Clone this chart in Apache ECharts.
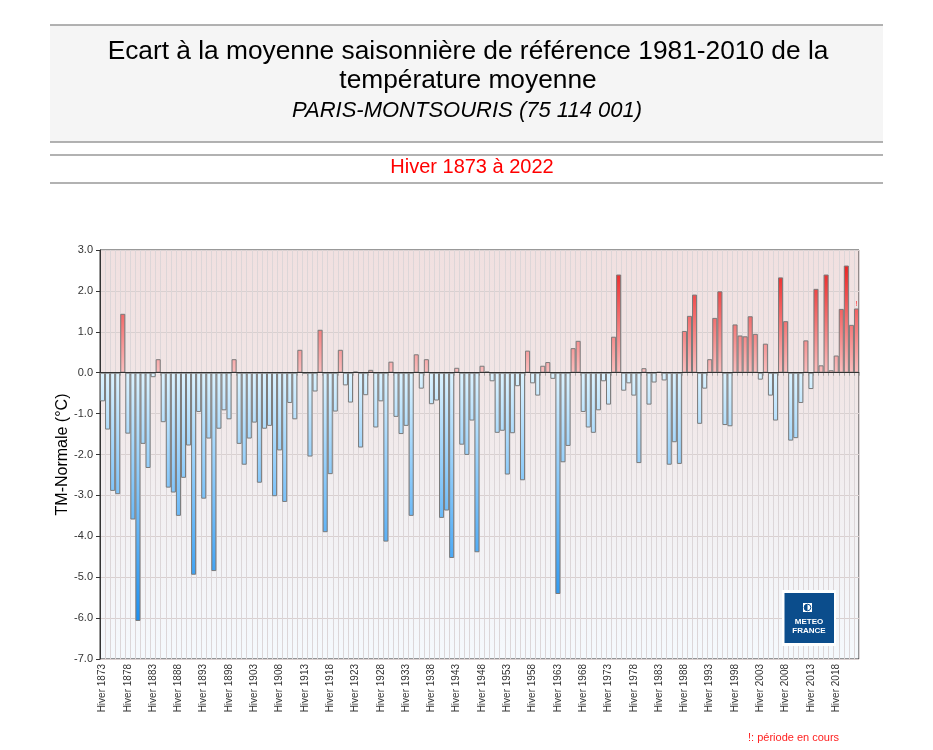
<!DOCTYPE html>
<html>
<head>
<meta charset="utf-8">
<script src="https://cdn.jsdelivr.net/npm/echarts@6/dist/echarts.min.js"></script>
<style>
html,body{margin:0;padding:0;background:#fff;}
#chart{width:933px;height:750px;}
</style>
</head>
<body>
<div id="chart"></div>
<script>
// ---- Data ----
const firstYear = 1873;
const lastYear = 2022;
const categories = [];
for (let y = firstYear; y <= lastYear; y++) categories.push('Hiver ' + y);

// Anomalies (°C), winter 1873..1922
const values1873_1922 = [
  -0.70, -1.39, -2.89, -2.97, 1.44, -1.49, -3.59, -6.07, -1.74, -2.33,
  -0.11, 0.33, -1.21, -2.81, -2.93, -3.50, -2.57, -1.78, -4.94, -0.96,
  -3.08, -1.61, -4.85, -1.37, -0.92, -1.14, 0.33, -1.74, -2.25, -1.61,
  -1.22, -2.69, -1.37, -1.30, -3.02, -1.90, -3.16, -0.74, -1.14, 0.56,
  -0.02, -2.05, -0.46, 1.05, -3.90, -2.48, -0.95, 0.56, -0.31, -0.73
];
// winter 1923..1972
const values1923_1972 = [
  0.03, -1.83, -0.55, 0.07, -1.34, -0.70, -4.13, 0.27, -1.08, -1.50,
  -1.30, -3.50, 0.45, -0.39, 0.33, -0.77, -0.68, -3.55, -3.37, -4.53,
  0.12, -1.76, -2.01, -1.17, -4.39, 0.17, 0.03, -0.21, -1.47, -1.42,
  -2.49, -1.48, -0.33, -2.63, 0.54, -0.26, -0.56, 0.17, 0.26, -0.15,
  -5.41, -2.19, -1.79, 0.60, 0.78, -0.96, -1.34, -1.47, -0.92, -0.21
];
// winter 1973..2022
const values1973_2022 = [
  -0.78, 0.88, 2.40, -0.44, -0.26, -0.56, -2.21, 0.11, -0.78, -0.24,
  0.02, -0.19, -2.25, -1.70, -2.23, 1.02, 1.39, 1.91, -1.25, -0.39,
  0.33, 1.34, 1.99, -1.28, -1.31, 1.18, 0.91, 0.89, 1.38, 0.95,
  -0.17, 0.71, -0.56, -1.17, 2.33, 1.26, -1.66, -1.60, -0.74, 0.79,
  -0.40, 2.05, 0.18, 2.40, 0.06, 0.42, 1.56, 2.62, 1.17, 1.57
];
const values = values1873_1922.concat(values1923_1972, values1973_2022);
const yTicks = [-7, -6, -5, -4, -3, -2, -1, 0, 1, 2, 3];

// ---- Styling helpers ----
const posLow = [250, 190, 190], posHigh = [236, 30, 30];
const negLow = [220, 243, 255], negHigh = [26, 144, 242];
function mix(a, b, t) {
  t = Math.max(0, Math.min(1, t));
  return 'rgb(' + a.map((v, i) => Math.round(v + (b[i] - v) * t)).join(',') + ')';
}
function barColor(p) {
  const v = p.value;
  if (v >= 0) {
    return new echarts.graphic.LinearGradient(0, 0, 0, 1, [
      { offset: 0, color: mix(posLow, posHigh, v / 2.7) },
      { offset: 1, color: mix(posLow, posHigh, 0) }
    ]);
  }
  return new echarts.graphic.LinearGradient(0, 0, 0, 1, [
    { offset: 0, color: mix(negLow, negHigh, 0) },
    { offset: 1, color: mix(negLow, negHigh, -v / 6.1) }
  ]);
}

const seriesData = values.map((v, i) => {
  if (i === values.length - 1) {
    return { value: v, label: { show: true, position: 'top', formatter: '!', color: '#ff2020', fontSize: 7, distance: 1 } };
  }
  return v;
});

const chart = echarts.init(document.getElementById('chart'), null, { renderer: 'canvas' });
const FONT = '"Liberation Sans", Arial, sans-serif';

chart.setOption({
  animation: false,
  backgroundColor: '#ffffff',
  textStyle: { fontFamily: FONT },
  grid: {
    left: 100, top: 250, width: 759, height: 409,
    show: true,
    borderColor: '#333',
    borderWidth: 1,
    backgroundColor: {
      type: 'linear', x: 0, y: 0, x2: 0, y2: 1,
      colorStops: [
        { offset: 0, color: '#f1e0e0' },
        { offset: 0.3, color: '#f1e5e5' },
        { offset: 0.6, color: '#f2eff1' },
        { offset: 1, color: '#f5f9fd' }
      ]
    }
  },
  xAxis: {
    type: 'category',
    data: categories,
    boundaryGap: true,
    axisLine: { show: true, lineStyle: { color: '#333', width: 1 } },
    axisTick: { show: true, interval: 0, length: 3, lineStyle: { color: '#aaa' } },
    axisLabel: { interval: 4, rotate: 90, fontSize: 10, color: '#333', margin: 5, fontFamily: FONT },
    splitLine: { show: true, interval: 0, lineStyle: { color: '#dcd6d8', width: 1 } }
  },
  yAxis: {
    type: 'value',
    min: yTicks[0], max: yTicks[yTicks.length - 1], interval: 1,
    name: 'TM-Normale (°C)',
    nameLocation: 'middle',
    nameGap: 29,
    nameMoveOverlap: false,
    nameTextStyle: { fontSize: 16, color: '#000', fontFamily: FONT },
    axisLine: { show: true, lineStyle: { color: '#333', width: 1 } },
    axisTick: { show: true, length: 4, lineStyle: { color: '#333' } },
    axisLabel: { fontSize: 11, color: '#333', margin: 7, fontFamily: FONT, formatter: v => v.toFixed(1) },
    splitLine: { show: true, lineStyle: { color: '#d9d0d0', width: 1 } }
  },
  series: [{
    type: 'bar',
    data: seriesData,
    barCategoryGap: '0%',
    itemStyle: {
      color: barColor,
      borderColor: '#7a7a7a',
      borderWidth: 1
    },
    markLine: {
      silent: true,
      symbol: 'none',
      label: { show: false },
      lineStyle: { color: '#333', type: 'solid', width: 1 },
      data: [{ yAxis: 0 }]
    }
  }],
  graphic: [
    { type: 'rect', shape: { x: 50, y: 25, width: 833, height: 117 }, style: { fill: '#f5f5f5' }, z: -1 },
    { type: 'line', shape: { x1: 50, y1: 25, x2: 883, y2: 25 }, style: { stroke: '#999', lineWidth: 1.5 } },
    { type: 'line', shape: { x1: 50, y1: 142, x2: 883, y2: 142 }, style: { stroke: '#999', lineWidth: 1.5 } },
    { type: 'line', shape: { x1: 50, y1: 155, x2: 883, y2: 155 }, style: { stroke: '#999', lineWidth: 1.5 } },
    { type: 'line', shape: { x1: 50, y1: 183, x2: 883, y2: 183 }, style: { stroke: '#999', lineWidth: 1.5 } },
    { type: 'text', x: 468, y: 52, style: { text: 'Ecart à la moyenne saisonnière de référence 1981-2010 de la', font: '26.3px ' + FONT, fill: '#000', align: 'center', verticalAlign: 'middle' } },
    { type: 'text', x: 468, y: 81, style: { text: 'température moyenne', font: '26.3px ' + FONT, fill: '#000', align: 'center', verticalAlign: 'middle' } },
    { type: 'text', x: 467, y: 111, style: { text: 'PARIS-MONTSOURIS (75 114 001)', font: 'italic 22px ' + FONT, fill: '#000', align: 'center', verticalAlign: 'middle' } },
    { type: 'text', x: 472, y: 167, style: { text: 'Hiver 1873 à 2022', font: '20px ' + FONT, fill: '#ff0000', align: 'center', verticalAlign: 'middle' } },
    { type: 'text', x: 748, y: 738, style: { text: '!: période en cours', font: '11px ' + FONT, fill: '#ff2020', align: 'left', verticalAlign: 'middle' } },
    // Météo-France logo
    { type: 'rect', shape: { x: 782, y: 590, width: 54, height: 56 }, style: { fill: '#ffffff' }, z: 10 },
    { type: 'rect', shape: { x: 784.5, y: 593, width: 49.5, height: 50 }, style: { fill: '#0b4d8c' }, z: 11 },
    { type: 'rect', shape: { x: 803, y: 603, width: 9, height: 9 }, style: { fill: '#ffffff' }, z: 12 },
    { type: 'circle', shape: { cx: 807.5, cy: 607.5, r: 3.3 }, style: { fill: '#0b4d8c' }, z: 13 },
    { type: 'rect', shape: { x: 807.5, y: 604, width: 3.5, height: 7 }, style: { fill: '#ffffff' }, z: 14 },
    { type: 'circle', shape: { cx: 807.5, cy: 607.5, r: 3.3 }, style: { fill: 'none', stroke: '#0b4d8c', lineWidth: 1 }, z: 15 },
    { type: 'text', x: 809, y: 622, style: { text: 'METEO', font: 'bold 8px ' + FONT, fill: '#ffffff', align: 'center', verticalAlign: 'middle' }, z: 16 },
    { type: 'text', x: 809, y: 631, style: { text: 'FRANCE', font: 'bold 8px ' + FONT, fill: '#ffffff', align: 'center', verticalAlign: 'middle' }, z: 16 }
  ]
});
</script>
</body>
</html>
